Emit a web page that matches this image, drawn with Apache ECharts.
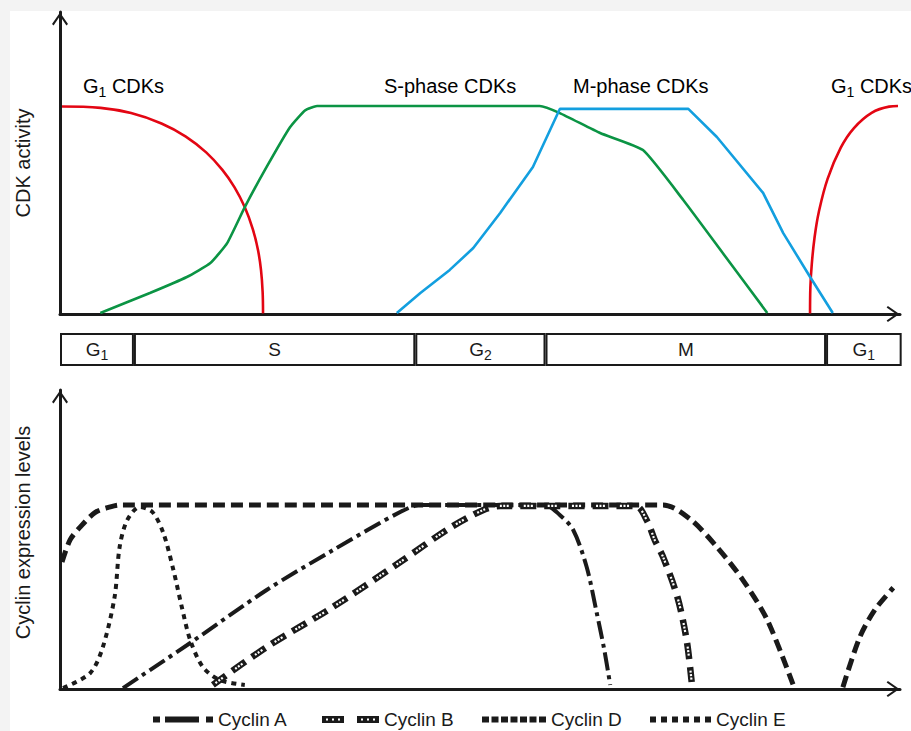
<!DOCTYPE html>
<html><head><meta charset="utf-8">
<script src="https://cdn.jsdelivr.net/npm/echarts@6/dist/echarts.min.js"></script>
<style>html,body{margin:0;padding:0;background:#fff}#c{width:911px;height:731px}</style>
</head><body><div id="c"></div>
<script>
// ---- data (time in arbitrary units 0..100 across one cycle) ----
const phaseNames   = ['G1', 'S', 'G2', 'M', 'G1'];
const phaseLengths = [8.8, 33.5, 15.5, 33.4, 9.0];

const cdkLabels = ['G1 CDKs', 'S-phase CDKs', 'M-phase CDKs', 'G1 CDKs'];
const g1Cdk = [[0.24,99.8],[4.83,99.1],[8.46,96.6],[12.08,91.6],[14.98,85.3],[17.4,77.7],[19.33,69.3],[20.78,60.9],[21.99,51.4],[22.96,40.7],[23.57,30.8],[23.93,21.1],[24.12,10.8],[24.17,0.3]];
const g1CdkNext = [[89.29,0.3],[89.33,12.9],[89.5,24.1],[89.81,36.2],[90.33,48.9],[91.38,65.0],[92.95,80.0],[94.52,89.4],[96.62,96.7],[98.71,99.7],[99.76,100]];
const sCdk = [[4.8,0.5],[10.7,10.1],[15.1,17.8],[17.9,24.5],[19.9,34.1],[22.0,51.4],[24.6,70.7],[27.4,89.9],[29.2,98],[30.6,100],[57.1,100],[59.5,96.6],[64.3,87],[69.4,78.8],[74.2,54.8],[78.9,29.3],[84.2,0.5]];
const mCdk = [[40.1,0.5],[42.9,10.1],[46.4,21.2],[49.2,31.7],[52.4,48.6],[56.3,70.7],[59.5,98.6],[74.8,98.6],[78.2,85.1],[83.7,58.2],[86.1,38.9],[89.3,17.8],[92.0,0.5]];

const cyclinNames = ['Cyclin A', 'Cyclin B', 'Cyclin D', 'Cyclin E'];
const cyclinA = [[7.5,0.5],[15.5,25],[24.6,53.8],[32.5,75.5],[40.5,96.2],[42.9,100],[57.7,100],[59.5,94.6],[61.1,86.4],[62.7,66.3],[63.9,41.3],[64.8,21.2],[65.5,2.2]];
const cyclinB = [[18.2,2.2],[24.6,22.8],[32.5,44.6],[40.5,69],[46.4,87.5],[50.4,97.3],[52.4,99.5],[68.5,99.5],[69.9,91.3],[70.8,81],[71.8,71.7],[73.5,50],[74.6,26.6],[75.2,3.8]];
const cyclinD = [[0.24,69],[1.2,81],[2.4,88],[4.2,96],[6.0,99],[7.1,100],[71.8,100],[75,92.4],[78.2,77.2],[81.3,59.2],[84.2,37.5],[87.3,2]];
const cyclinDNext = [[93.2,1],[95.2,28],[97.0,43],[99.2,55]];
const cyclinE = [[0.36,0.5],[3.6,8.7],[5.1,22.8],[6.5,50],[7.1,77.2],[8.0,91.8],[9.5,98.9],[11.0,96.2],[12.3,84.8],[13.5,64.7],[14.5,44.6],[15.5,26.6],[17.0,12],[19.0,4.9],[22.0,2.2]];

// ---- styling ----
const FONT = "'Liberation Sans', Arial, sans-serif";
const INK = '#1a1a1a';
const ARROW = 'path://M50,0L100,72L90,80L50,22L10,80L0,72Z';
function sub(name) { // 'G1' -> rich with subscript
  const m = name.match(/^(G)(\d)(.*)$/);
  if (!m) return '{m|' + name + '}';
  return '{m|' + m[1] + '}{s|' + m[2] + '}' + (m[3] ? '{m|' + m[3] + '}' : '');
}
function richDef(size) {
  return { m: { fontSize: size, fontFamily: FONT, color: INK },
           s: { fontSize: Math.round(size * 0.72), fontFamily: FONT, color: INK, padding: [Math.round(size * 0.6), 0, 0, 0] } };
}
function axisLineDef() {
  return { show: true, symbol: ['none', ARROW], symbolSize: [16, 14], symbolOffset: [0, -7],
           lineStyle: { color: INK, width: 3 } };
}
function valueX(gi, max) {
  return { type: 'value', gridIndex: gi, min: 0, max: max, axisLine: axisLineDef(),
           axisTick: { show: false }, axisLabel: { show: false }, splitLine: { show: false } };
}
function valueY(gi, max, name, pad) {
  return { type: 'value', gridIndex: gi, min: 0, max: max, axisLine: axisLineDef(),
           axisTick: { show: false }, axisLabel: { show: false }, splitLine: { show: false },
           name: name, nameLocation: 'middle', nameRotate: 90, nameGap: 27,
           nameTextStyle: { fontFamily: FONT, fontSize: 20, color: INK, padding: pad } };
}
function cdkLine(data, color, smooth) {
  return { type: 'line', xAxisIndex: 0, yAxisIndex: 0, data: data, smooth: smooth, showSymbol: false,
           symbol: 'none', lineStyle: { color: color, width: 2.6 }, silent: true, z: 3 };
}
function cycLine(name, data, dash, width, color, z) {
  return { type: 'line', name: name, xAxisIndex: 2, yAxisIndex: 2, data: data, smooth: 0.3,
           showSymbol: false, symbol: 'none', color: color, itemStyle: { color: color },
           lineStyle: { color: color, width: width, type: dash }, silent: true, z: z };
}

const RED = '#e30613', GREEN = '#0b9444', BLUE = '#139fdf';

const phaseSeries = phaseNames.map((n, i) => ({
  type: 'bar', xAxisIndex: 1, yAxisIndex: 1, stack: 'phase', barWidth: '100%',
  data: [phaseLengths[i]], silent: true,
  itemStyle: { color: '#fff', borderColor: INK, borderWidth: 2 },
  label: { show: true, position: 'inside', formatter: sub(n), rich: richDef(19) }
}));

const legendIcons = {
  'Cyclin A': 'path://M0,0H7V6H0Z M12,0H46V6H12Z M53,0H60V6H53Z',
  'Cyclin B': 'path://M0,0H22V7H0Z M4,2.5V4.5H6V2.5Z M10,2.5V4.5H12V2.5Z M16,2.5V4.5H18V2.5Z M35,0H57V7H35Z M39,2.5V4.5H41V2.5Z M45,2.5V4.5H47V2.5Z M51,2.5V4.5H53V2.5Z',
  'Cyclin D': 'path://M0,0H7V6H0Z M9.5,0H16.5V6H9.5Z M19,0H26V6H19Z M28.5,0H35.5V6H28.5Z M38,0H45V6H38Z M47.5,0H54.5V6H47.5Z M57,0H64V6H57Z',
  'Cyclin E': 'path://M0,0H6V6H0Z M11,0H17V6H11Z M22,0H28V6H22Z M33,0H39V6H33Z M44,0H50V6H44Z M55,0H61V6H55Z'
};
const legendLeft = [153, 322, 482, 650];
const legendW = [60, 57, 64, 61];

const labelX = [83, 384, 573, 831];

const chart = echarts.init(document.getElementById('c'), null, { renderer: 'svg' });
chart.setOption({
  backgroundColor: '#fff',
  animation: false,
  grid: [
    { left: 60, top: 12, width: 840, height: 302 },
    { left: 60, top: 333, width: 842, height: 33 },
    { left: 60, top: 390, width: 840, height: 299 }
  ],
  xAxis: [
    valueX(0, 100),
    { type: 'value', gridIndex: 1, min: 0, max: 100.24, show: false },
    valueX(2, 100)
  ],
  yAxis: [
    valueY(0, 145.2, 'CDK activity', [0, 0, 0, 0]),
    { type: 'category', gridIndex: 1, data: ['phase'], show: false },
    valueY(2, 162.5, 'Cyclin expression levels', [0, 0, 0, 14])
  ],
  legend: cyclinNames.map((n, i) => ({
    data: [{ name: n, icon: legendIcons[n] }],
    left: legendLeft[i], top: 710, itemWidth: legendW[i], itemHeight: 7, itemGap: 0,
    padding: 0,
    itemStyle: { color: INK, borderWidth: 0 },
    textStyle: { fontFamily: FONT, fontSize: 19, color: INK },
    selectedMode: false
  })),
  graphic: [
    { type: 'rect', shape: { x: 0, y: 0, width: 911, height: 11 }, style: { fill: '#f3f3f3' }, silent: true, z: -10 },
    { type: 'rect', shape: { x: 0, y: 0, width: 10, height: 731 }, style: { fill: '#f3f3f3' }, silent: true, z: -10 }
  ].concat(cdkLabels.map((t, i) => ({
    type: 'text', x: labelX[i], y: 86, silent: true,
    style: { text: sub(t), rich: richDef(20), align: 'left', verticalAlign: 'middle' }
  }))),
  series: [
    cdkLine(g1Cdk, RED, 0.4),
    cdkLine(g1CdkNext, RED, 0.4),
    cdkLine(sCdk, GREEN, 0.15),
    cdkLine(mCdk, BLUE, false)
  ].concat(phaseSeries).concat([
    cycLine('Cyclin D', cyclinD, [12, 6], 5, INK, 3),
    cycLine('Cyclin D', cyclinDNext, [12, 6], 5, INK, 3),
    cycLine('Cyclin E', cyclinE, [5, 5], 4, INK, 4),
    cycLine('Cyclin A', cyclinA, [18, 5, 4, 5], 4, INK, 5),
    cycLine('Cyclin B', cyclinB, [16, 8], 6.5, INK, 6),
    cycLine('', cyclinB, [0, 3.5, 2, 1.5, 2, 1.5, 2, 11.5], 2.2, '#fff', 7)
  ])
});
</script></body></html>
